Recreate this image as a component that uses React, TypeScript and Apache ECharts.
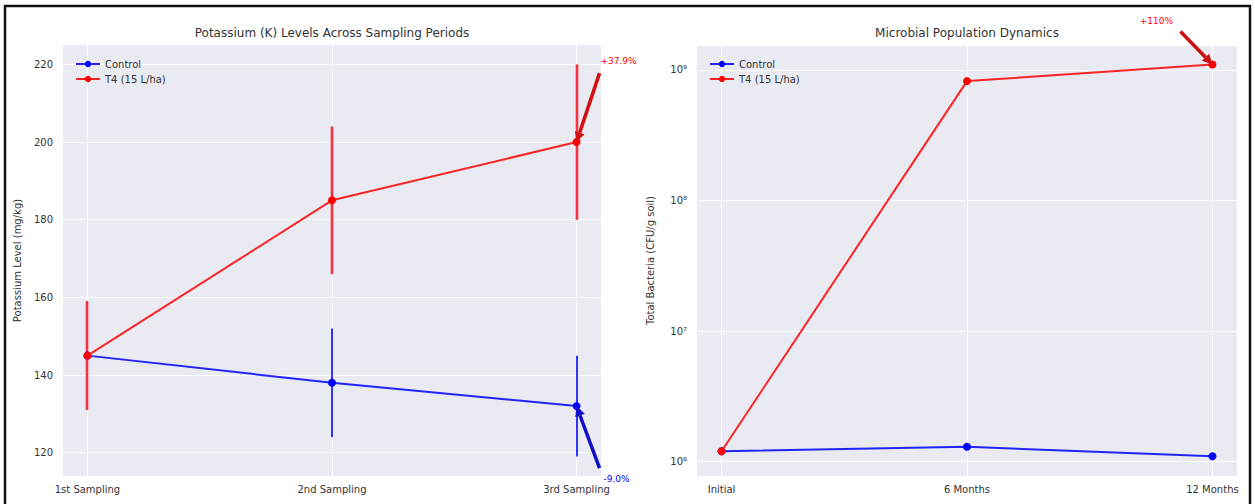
import React, { useEffect, useRef } from 'react';
import * as echarts from 'echarts';

const samplingCategories = ['1st Sampling', '2nd Sampling', '3rd Sampling'];
const controlPotassium = [145, 138, 132];
const controlPotassiumErr = [14, 14, 13];
const t4Potassium = [145, 185, 200];
const t4PotassiumErr = [14, 19, 20];
const potassiumTicks = [120, 140, 160, 180, 200, 220];

const microbialCategories = ['Initial', '6 Months', '12 Months'];
const controlBacteria = [1.2e6, 1.3e6, 1.1e6];
const t4Bacteria = [1.2e6, 8.2e8, 1.1e9];
const microbialLabel = '+110%';

const seriesNames = ['Control', 'T4 (15 L/ha)'];
const titles = ['Potassium (K) Levels Across Sampling Periods', 'Microbial Population Dynamics'];
const yNames = ['Potassium Level (mg/kg)', 'Total Bacteria (CFU/g soil)'];

const FONT = 'DejaVu Sans';
const BLUE = '#0000ff';
const RED = '#ff0000';
const SUP: Record<string, string> = { '0': '⁰', '1': '¹', '2': '²', '3': '³', '4': '⁴', '5': '⁵', '6': '⁶', '7': '⁷', '8': '⁸', '9': '⁹' };

const pct = (a: number, b: number) => {
  const p = ((b - a) / a) * 100;
  return (p >= 0 ? '+' : '') + p.toFixed(1) + '%';
};

const toXY = (arr: number[]) => arr.map((v, i) => [i, v]);

const errorSeries = (name: string, vals: number[], errs: number[], color: string, width: number) => ({
  type: 'custom',
  name,
  xAxisIndex: 0,
  yAxisIndex: 0,
  z: 2,
  silent: true,
  data: vals.map((v, i) => [i, v - errs[i], v + errs[i]]),
  renderItem: (params: any, api: any) => {
    const lo = api.coord([api.value(0), api.value(1)]);
    const hi = api.coord([api.value(0), api.value(2)]);
    const x = Math.round(lo[0]);
    return {
      type: 'line',
      shape: { x1: x, y1: lo[1], x2: x, y2: hi[1] },
      style: { stroke: color, lineWidth: width },
    };
  },
});

const lineSeries = (name: string, data: number[], color: string, idx: number) => ({
  type: 'line',
  name,
  xAxisIndex: idx,
  yAxisIndex: idx,
  data: toXY(data),
  symbol: 'circle',
  symbolSize: 8,
  z: 3,
  itemStyle: { color },
  lineStyle: { color, width: 2, opacity: 0.85 },
});

const xAxisFor = (idx: number, cats: string[]) => ({
  type: 'value',
  gridIndex: idx,
  min: -0.1,
  max: 2.1,
  axisLine: { show: false },
  axisTick: { show: false, customValues: [0, 1, 2] },
  axisLabel: {
    customValues: [0, 1, 2],
    formatter: (v: number) => cats[Math.round(v)],
    color: '#333',
    fontSize: 10,
    fontFamily: FONT,
    margin: 8,
  },
  splitLine: { show: true, lineStyle: { color: '#ffffff', width: 1 } },
});

function arrowGraphics(head: number[], dx: number, dy: number, color: string, text: string, tdx: number, tdy: number, tcolor: string) {
  const tail = [head[0] + dx, head[1] + dy];
  const len = Math.hypot(dx, dy);
  const ux = -dx / len;
  const uy = -dy / len;
  const hl = 10;
  const hw = 5;
  const base = [head[0] - ux * hl, head[1] - uy * hl];
  const px = -uy;
  const py = ux;
  return [
    {
      type: 'line',
      shape: { x1: tail[0], y1: tail[1], x2: base[0], y2: base[1] },
      style: { stroke: color, lineWidth: 3.5 },
      z: 10,
    },
    {
      type: 'polygon',
      shape: {
        points: [
          [head[0], head[1]],
          [base[0] + px * hw, base[1] + py * hw],
          [base[0] - px * hw, base[1] - py * hw],
        ],
      },
      style: { fill: color },
      z: 10,
    },
    {
      type: 'text',
      x: head[0] + tdx,
      y: head[1] + tdy,
      style: { text, fill: tcolor, font: `9px "${FONT}"`, textAlign: 'center', textVerticalAlign: 'middle' },
      z: 10,
    },
  ];
}

export default function App() {
  const ref = useRef<HTMLDivElement>(null);
  useEffect(() => {
    document.body.style.margin = '0';
    const chart = echarts.init(ref.current!, undefined, { renderer: 'svg' });
    const grids = [
      { left: 63, top: 45, width: 538, height: 431 },
      { left: 697, top: 45, width: 540, height: 431 },
    ];
    const option: any = {
      animation: false,
      backgroundColor: '#ffffff',
      textStyle: { fontFamily: FONT },
      grid: grids.map((g) => ({ ...g, show: true, backgroundColor: '#eaeaf2', borderWidth: 0 })),
      xAxis: [xAxisFor(0, samplingCategories), xAxisFor(1, microbialCategories)],
      yAxis: [
        {
          type: 'value',
          gridIndex: 0,
          min: 114,
          max: 225,
          name: yNames[0],
          nameLocation: 'middle',
          nameGap: 41,
          nameTextStyle: { color: '#333', fontSize: 10, fontFamily: FONT },
          axisLine: { show: false },
          axisTick: { show: false, customValues: potassiumTicks },
          axisLabel: { customValues: potassiumTicks, color: '#333', fontSize: 10, fontFamily: FONT, margin: 10 },
          splitLine: { show: true, lineStyle: { color: '#ffffff', width: 1 } },
        },
        {
          type: 'log',
          logBase: 10,
          gridIndex: 1,
          min: 7.76e5,
          max: 1.55e9,
          name: yNames[1],
          nameLocation: 'middle',
          nameGap: 42,
          nameTextStyle: { color: '#333', fontSize: 10, fontFamily: FONT },
          axisLine: { show: false },
          axisTick: { show: false },
          axisLabel: {
            showMinLabel: false,
            showMaxLabel: false,
            color: '#333',
            fontSize: 10,
            fontFamily: FONT,
            margin: 10,
            formatter: (v: number) => {
              const e = Math.round(Math.log10(v));
              return '10' + String(e).split('').map((c) => SUP[c] || c).join('');
            },
          },
          splitLine: { show: true, lineStyle: { color: '#ffffff', width: 1 } },
        },
      ],
      legend: [0, 1].map((i) => ({
        left: i === 0 ? 70 : 704,
        top: 53,
        orient: 'vertical',
        itemWidth: 24,
        itemHeight: 8,
        itemGap: 3,
        data: seriesNames,
        selectedMode: false,
        textStyle: { color: '#333', fontSize: 10, fontFamily: FONT, lineHeight: 12 },
      })),
      series: [
        errorSeries('errControl', controlPotassium, controlPotassiumErr, '#3535f5', 2),
        lineSeries(seriesNames[0], controlPotassium, BLUE, 0),
        errorSeries('errT4', t4Potassium, t4PotassiumErr, '#f53040', 2.6),
        lineSeries(seriesNames[1], t4Potassium, RED, 0),
        lineSeries(seriesNames[0], controlBacteria, BLUE, 1),
        lineSeries(seriesNames[1], t4Bacteria, RED, 1),
      ],
    };
    chart.setOption(option);

    const pT4 = chart.convertToPixel({ xAxisIndex: 0, yAxisIndex: 0 }, [2, t4Potassium[2]]) as number[];
    const pCtl = chart.convertToPixel({ xAxisIndex: 0, yAxisIndex: 0 }, [2, controlPotassium[2]]) as number[];
    const pMic = chart.convertToPixel({ xAxisIndex: 1, yAxisIndex: 1 }, [2, t4Bacteria[2]]) as number[];

    const graphic: any[] = [
      {
        type: 'rect',
        shape: { x: 5, y: 6, width: 1245, height: 530 },
        style: { fill: 'none', stroke: '#111', lineWidth: 2.5 },
        z: 20,
      },
      {
        type: 'text',
        x: grids[0].left + grids[0].width / 2,
        y: 33,
        style: { text: titles[0], fill: '#333', font: `12px "${FONT}"`, textAlign: 'center', textVerticalAlign: 'middle' },
      },
      {
        type: 'text',
        x: grids[1].left + grids[1].width / 2,
        y: 33,
        style: { text: titles[1], fill: '#333', font: `12px "${FONT}"`, textAlign: 'center', textVerticalAlign: 'middle' },
      },
      ...arrowGraphics(pT4, 23, -69, '#d01010', pct(t4Potassium[0], t4Potassium[2]), 42, -81, RED),
      ...arrowGraphics(pCtl, 23, 62, '#1010c8', pct(controlPotassium[0], controlPotassium[2]), 40, 73, BLUE),
      ...arrowGraphics(pMic, -32, -33, '#c81010', microbialLabel, -56, -43, RED),
    ];
    chart.setOption({ graphic });
    return () => chart.dispose();
  }, []);
  return <div ref={ref} style={{ position: 'absolute', left: 0, top: 0, width: 1255, height: 504 }} />;
}
